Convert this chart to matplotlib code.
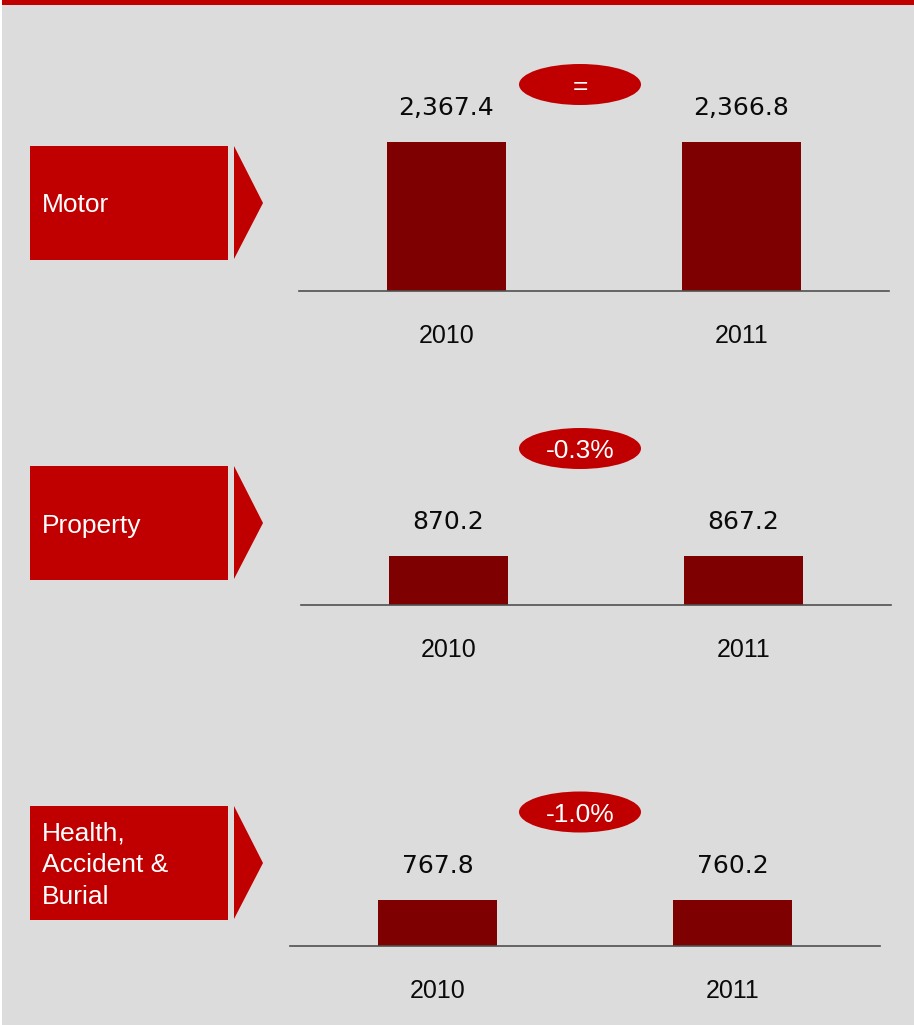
import matplotlib.pyplot as plt
from matplotlib.patches import Rectangle, Polygon, Ellipse

# Datos
years = ['2010', '2011']
segments = ['Motor', 'Property', 'Health,\nAccident &\nBurial']
motor = [2367.4, 2366.8]
property_vals = [870.2, 867.2]
health = [767.8, 760.2]
changes = ['=', '-0.3%', '-1.0%']
series = [motor, property_vals, health]

# Colores
RED = '#c00000'
BAR = '#7f0000'
BG = '#dcdcdc'

W, H = 914, 1025

# Disposición de cada bloque (pixeles)
box_tops = [146, 466, 806]
baselines = [291, 605, 946]
ax_lefts = [299, 301, 290]
oval_ys = [84.5, 448.5, 812]
ymaxs = [3180, 3550, 3340]

fig = plt.figure(figsize=(W / 100, H / 100), dpi=100)
fig.patch.set_facecolor(BG)

# Capa de fondo en coordenadas de pixel
bg = fig.add_axes([0, 0, 1, 1])
bg.set_xlim(0, W)
bg.set_ylim(H, 0)
bg.axis('off')
bg.add_patch(Rectangle((0, 0), W, 5, color=RED, lw=0))
bg.add_patch(Rectangle((0, 0), 2, H, color='white', lw=0))

for k in range(3):
    top = box_tops[k]
    # Caja roja con flecha
    bg.add_patch(Rectangle((30, top), 198, 114, color=RED, lw=0))
    bg.add_patch(Polygon([(234, top), (263, top + 57), (234, top + 113)],
                         closed=True, color=RED, lw=0))
    lines = segments[k].split('\n')
    y0 = top + 57 + 9.5 - (len(lines) - 1) * 31.7 / 2
    for j, line in enumerate(lines):
        bg.text(42, y0 + j * 31.7, line, color='white', fontsize=19,
                family='Liberation Sans', ha='left', va='baseline')

    # Óvalo con la variación
    oy = oval_ys[k]
    bg.add_patch(Ellipse((580, oy), 122, 41, color=RED, lw=0))
    bg.text(580, oy + 9.5, changes[k], color='white', fontsize=19,
            family='Liberation Sans', ha='center', va='baseline')

    # Gráfico de barras
    ax = fig.add_axes([ax_lefts[k] / W, 1 - baselines[k] / H, 590 / W, 200 / H])
    ax.set_facecolor('none')
    vals = series[k]
    ax.bar(range(len(vals)), vals, width=0.405, color=BAR)
    ax.set_xlim(-0.5, 1.5)
    ax.set_ylim(0, ymaxs[k])
    for axis in ['top', 'left', 'right']:
        ax.spines[axis].set_visible(False)
    ax.spines['bottom'].set_color('#505050')
    ax.spines['bottom'].set_linewidth(1.2)
    ax.set_yticks([])
    ax.set_xticks(range(len(years)))
    ax.set_xticklabels(years, fontsize=18, family='Liberation Sans', color='#0a0a0a')
    ax.tick_params(axis='x', length=0, pad=24)
    for i, v in enumerate(vals):
        ax.annotate(f'{v:,.1f}', (i, v), xytext=(0, 19.5), textcoords='offset points',
                    ha='center', va='baseline', fontsize=18, family='DejaVu Sans',
                    color='#0a0a0a')

fig.savefig('out.png', dpi=100, facecolor=BG)
